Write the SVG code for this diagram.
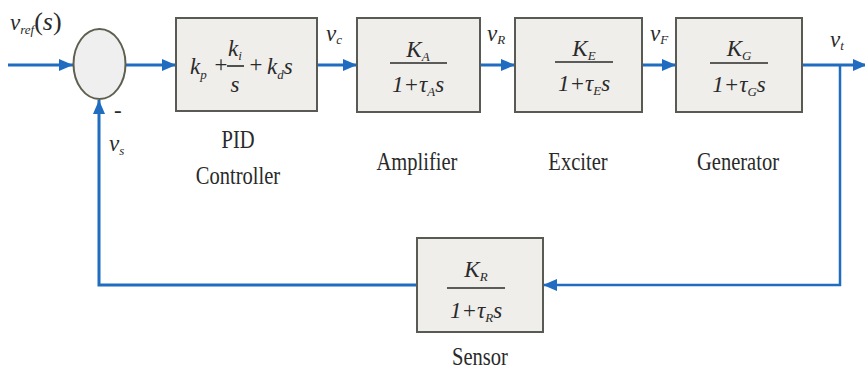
<svg xmlns="http://www.w3.org/2000/svg" width="865" height="372" viewBox="0 0 865 372" font-family="Liberation Serif, Times New Roman, serif">
<defs>
<style>
.blk{fill:#efeeea;stroke:#5a5a55;stroke-width:2}
.wire{fill:none;stroke:#1f6cc0;stroke-width:3}
.lbl{font-size:26px;fill:#2a2a2a;text-anchor:middle}
.m{font-style:italic;font-size:23px;fill:#2a2a2a}
.mc{text-anchor:middle}
.sub{font-size:13px}
.bar{stroke:#2a2a2a;stroke-width:1.6}
</style>
<marker id="ah" markerUnits="userSpaceOnUse" markerWidth="14" markerHeight="12" refX="14" refY="6" orient="auto">
<path d="M0,0 L14,6 L0,12 Z" fill="#1f6cc0"/>
</marker>
</defs>
<rect width="865" height="372" fill="#ffffff"/>

<g id="connectors">
<path class="wire" d="M8,65 H73" marker-end="url(#ah)"/>
<path class="wire" d="M126,65 H176" marker-end="url(#ah)"/>
<path class="wire" d="M317,65 H357" marker-end="url(#ah)"/>
<path class="wire" d="M480,65 H515" marker-end="url(#ah)"/>
<path class="wire" d="M642,65 H676" marker-end="url(#ah)"/>
<path class="wire" d="M802,65 H867" marker-end="url(#ah)"/>
<path class="wire" d="M840,65 V285 H543" marker-end="url(#ah)" style="stroke-width:2.5"/>
<path class="wire" d="M417,285 H99 V100" marker-end="url(#ah)"/>
</g>

<g id="signals">
<text class="m" x="10" y="30">v<tspan class="sub" dy="4">ref</tspan><tspan dy="-4" font-size="26" font-style="normal">(</tspan><tspan font-size="26">s</tspan><tspan font-size="26" font-style="normal">)</tspan></text>
<text class="m" x="326" y="41" font-size="19">v<tspan class="sub" dy="3">c</tspan></text>
<text class="m" x="487" y="41" font-size="19">v<tspan class="sub" dy="3">R</tspan></text>
<text class="m" x="650" y="41" font-size="19">v<tspan class="sub" dy="3">F</tspan></text>
<text class="m" x="830" y="47" font-size="19">v<tspan class="sub" dy="3">t</tspan></text>
<text class="m" x="109" y="151" font-size="20">v<tspan class="sub" dy="4">s</tspan></text>
<text class="m" x="114" y="118" font-size="22" font-style="normal">-</text>
</g>

<g id="sum">
<ellipse cx="99.5" cy="64" rx="26" ry="35" fill="#efefef" stroke="#5f5f50" stroke-width="2"/>
</g>

<g id="pid">
<rect class="blk" x="176" y="18" width="141" height="93"/>
<text class="m" x="190" y="74">k<tspan class="sub" dy="5">p</tspan></text>
<text class="m" x="213" y="72" font-size="18" font-style="normal">+</text>
<text class="m mc" x="235" y="56">k<tspan class="sub" dy="4">i</tspan></text>
<line class="bar" x1="227" y1="66" x2="244" y2="66"/>
<text class="m mc" x="235" y="92">s</text>
<text class="m" x="248" y="72" font-size="18" font-style="normal">+</text>
<text class="m" x="267" y="74">k<tspan class="sub" dy="5">d</tspan><tspan dy="-5">s</tspan></text>
<text class="lbl" transform="translate(238,148) scale(0.79,1)">PID</text>
<text class="lbl" transform="translate(238,184) scale(0.79,1)">Controller</text>
</g>

<g id="amplifier">
<rect class="blk" x="357" y="18" width="123" height="94"/>
<text class="m mc" x="418" y="57">K<tspan class="sub" dy="4">A</tspan></text>
<line class="bar" x1="390" y1="63" x2="447" y2="63"/>
<text class="m mc" x="418" y="92" font-style="normal">1+<tspan font-style="italic">τ</tspan><tspan class="sub" font-style="italic" dy="4">A</tspan><tspan font-style="italic" dy="-4">s</tspan></text>
<text class="lbl" transform="translate(417,170) scale(0.79,1)">Amplifier</text>
</g>

<g id="exciter">
<rect class="blk" x="515" y="18" width="127" height="94"/>
<text class="m mc" x="584" y="56">K<tspan class="sub" dy="4">E</tspan></text>
<line class="bar" x1="555" y1="62" x2="613" y2="62"/>
<text class="m mc" x="584" y="91" font-style="normal">1+<tspan font-style="italic">τ</tspan><tspan class="sub" font-style="italic" dy="4">E</tspan><tspan font-style="italic" dy="-4">s</tspan></text>
<text class="lbl" transform="translate(578,170) scale(0.79,1)">Exciter</text>
</g>

<g id="generator">
<rect class="blk" x="676" y="18" width="126" height="94"/>
<text class="m mc" x="739" y="56">K<tspan class="sub" dy="4">G</tspan></text>
<line class="bar" x1="710" y1="63" x2="768" y2="63"/>
<text class="m mc" x="739" y="92" font-style="normal">1+<tspan font-style="italic">τ</tspan><tspan class="sub" font-style="italic" dy="4">G</tspan><tspan font-style="italic" dy="-4">s</tspan></text>
<text class="lbl" transform="translate(738,170) scale(0.79,1)">Generator</text>
</g>

<g id="sensor">
<rect class="blk" x="417" y="238" width="126" height="94"/>
<text class="m mc" x="476" y="277">K<tspan class="sub" dy="4">R</tspan></text>
<line class="bar" x1="447" y1="288" x2="505" y2="288"/>
<text class="m mc" x="476" y="318" font-style="normal">1+<tspan font-style="italic">τ</tspan><tspan class="sub" font-style="italic" dy="4">R</tspan><tspan font-style="italic" dy="-4">s</tspan></text>
<text class="lbl" transform="translate(480,365) scale(0.79,1)">Sensor</text>
</g>
</svg>
